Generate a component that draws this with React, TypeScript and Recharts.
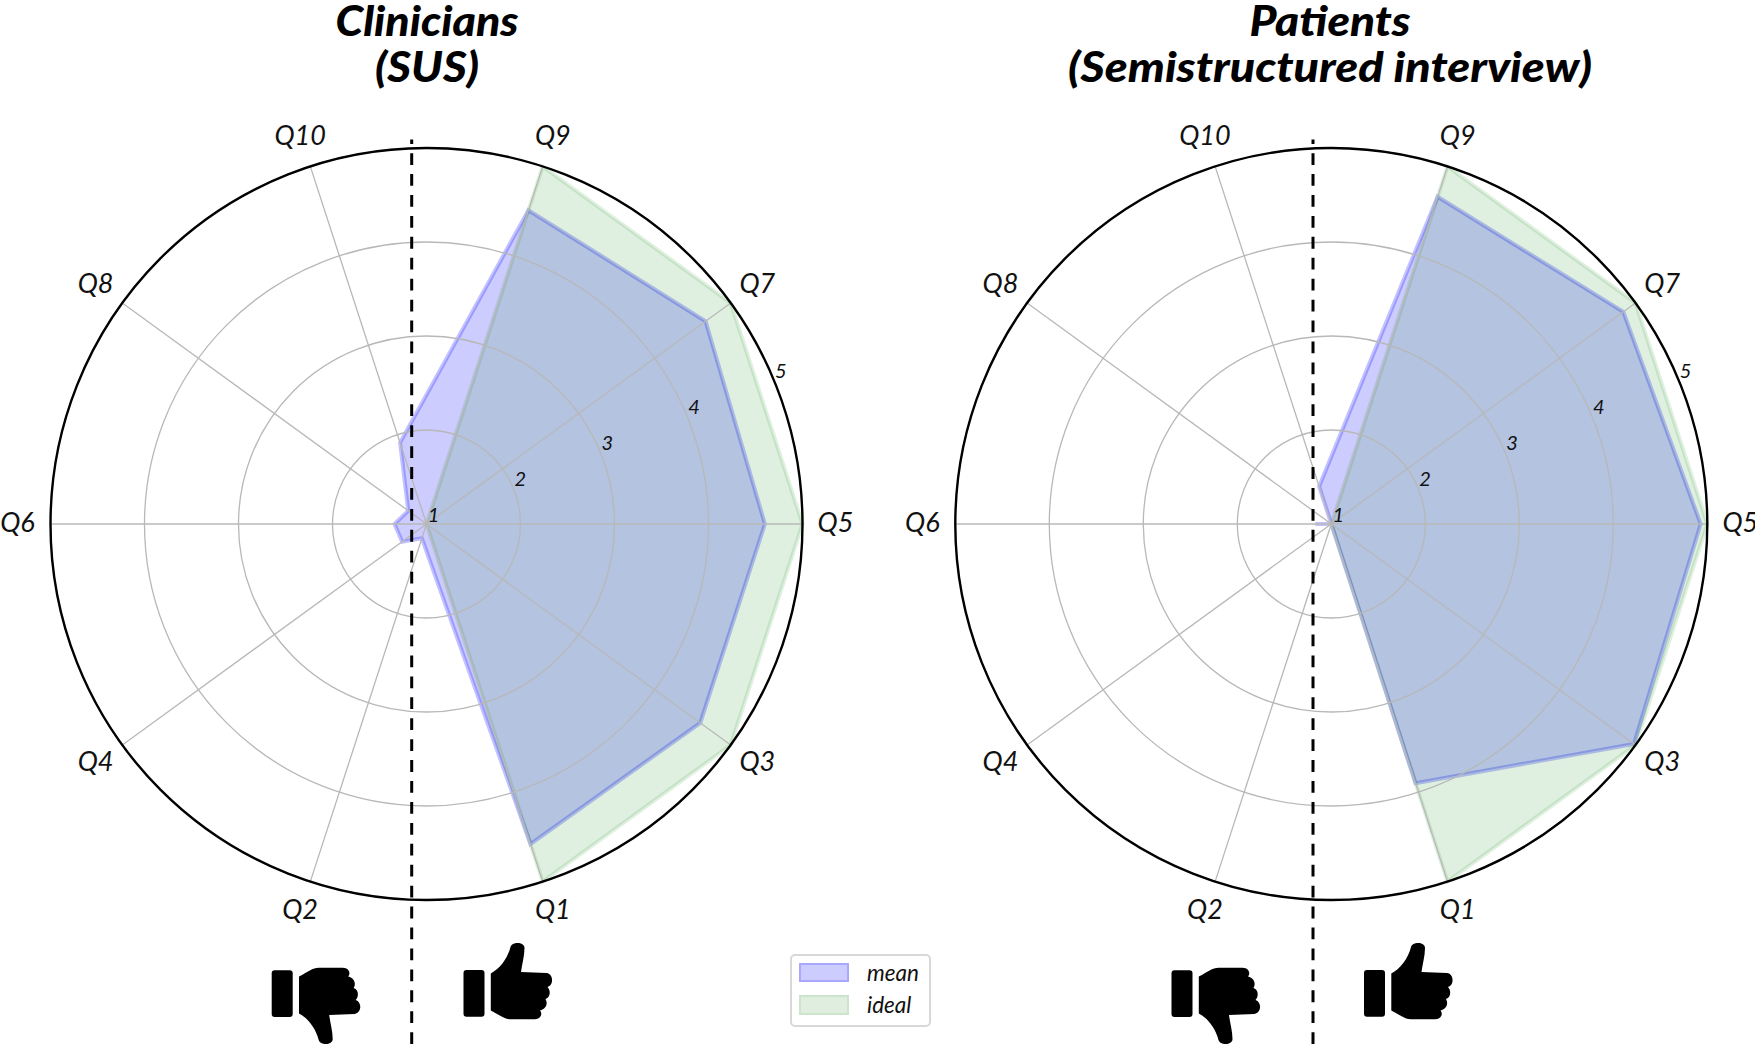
import React from "react";
import {
  RadarChart,
  Radar,
  PolarGrid,
  PolarAngleAxis,
  PolarRadiusAxis,
  Legend,
} from "recharts";

// clockwise from the east spoke
const questions = ["Q5", "Q3", "Q1", "Q2", "Q4", "Q6", "Q8", "Q10", "Q9", "Q7"];
const clinicianMean = [4.6, 4.6, 4.58, 1.16, 1.32, 1.34, 1.24, 1.91, 4.51, 4.67];
const patientMean = [4.93, 4.98, 3.9, 1, 1, 1.17, 1, 1.42, 4.66, 4.84];
const ideal = [5, 5, 5, 1, 1, 1, 1, 1, 5, 5];
const radiusTicks = [1, 2, 3, 4, 5];

const FONT = "Lato, 'Open Sans', sans-serif";
const HEIGHT = 1048;
const CY = 524;
const OUTER = 376;

const buildRows = (mean: number[]) =>
  questions.map((q, i) => ({ q, mean: mean[i], ideal: ideal[i] }));

const AngleTick = ({ x, y, payload, centerX }: any) => {
  const dx = x - centerX;
  const dy = y - CY;
  const len = Math.sqrt(dx * dx + dy * dy) || 1;
  return (
    <text
      x={centerX + (dx / len) * 409}
      y={CY - 2.5 + (dy / len) * 407}
      textAnchor="middle"
      dominantBaseline="central"
      fontFamily={FONT}
      fontStyle="italic"
      fontSize={27}
      fill="#111"
    >
      {payload.value}
    </text>
  );
};

const RadiusTick = ({ x, y, payload }: any) => (
  <text
    x={x + 7}
    y={y - 10}
    textAnchor="middle"
    dominantBaseline="central"
    fontFamily={FONT}
    fontStyle="italic"
    fontSize={20}
    fill="#111"
  >
    {payload.value}
  </text>
);

const NoTick = () => <g />;

const LegendBox = ({ payload }: any) => {
  const rows = ["mean", "ideal"].map((n) =>
    (payload || []).find((p: any) => p.value === n)
  );
  return (
    <div
      style={{
        width: 141,
        height: 73,
        boxSizing: "border-box",
        border: "2px solid #d8d8d8",
        borderRadius: 5,
        background: "#fff",
        padding: "0 0 0 7px",
      }}
    >
      {rows.map((row: any) =>
        row ? (
          <div
            key={row.value}
            style={{ display: "flex", alignItems: "center", height: 32.5 }}
          >
            <span
              style={{
                width: 50,
                height: 19.5,
                boxSizing: "border-box",
                background: row.value === "mean" ? "#ccccff" : "#e0eee0",
                border:
                  row.value === "mean"
                    ? "2.5px solid #a8a8ff"
                    : "2.5px solid #cbe4cb",
              }}
            />
            <span
              style={{
                marginLeft: 18,
                fontFamily: FONT,
                fontStyle: "italic",
                fontSize: 22.5,
                color: "#111",
              }}
            >
              {row.value}
            </span>
          </div>
        ) : null
      )}
    </div>
  );
};

const polarProps = (rows: any, width: number, centerX: number) => ({
  width,
  height: HEIGHT,
  data: rows,
  cx: centerX,
  cy: CY,
  innerRadius: 0,
  outerRadius: OUTER,
  startAngle: 0,
  endAngle: -360,
  margin: { top: 0, right: 0, bottom: 0, left: 0 },
});

// two stacked charts: the grid of the reference lies over the filled areas
const Panel = ({ rows, left, width, centerX, withLegend }: any) => (
  <>
    <div style={{ position: "absolute", left, top: 0 }}>
      <RadarChart {...polarProps(rows, width, centerX)}>
        <PolarAngleAxis dataKey="q" axisLine={false} tickLine={false} tick={<NoTick />} />
        <PolarRadiusAxis
          domain={[1, 5]}
          ticks={radiusTicks as any}
          tickCount={5}
          angle={22.5}
          axisLine={false}
          tickLine={false}
          tick={<NoTick />}
        />
        <Radar
          name="mean"
          dataKey="mean"
          stroke="#0000ff"
          strokeOpacity={0.24}
          strokeWidth={4}
          fill="#0000ff"
          fillOpacity={0.2}
          dot={false}
          isAnimationActive={false}
        />
        <Radar
          name="ideal"
          dataKey="ideal"
          stroke="#008000"
          strokeOpacity={0.12}
          strokeWidth={4}
          fill="#008000"
          fillOpacity={0.12}
          dot={false}
          isAnimationActive={false}
        />
        {withLegend && (
          <Legend
            itemSorter={null as any}
            content={<LegendBox />}
            wrapperStyle={{ left: 790, top: 954, width: 141, height: 73, bottom: "auto" }}
          />
        )}
      </RadarChart>
    </div>
    <div style={{ position: "absolute", left, top: 0, pointerEvents: "none" }}>
      <RadarChart {...polarProps(rows, width, centerX)}>
        <PolarGrid gridType="circle" stroke="#b8b8b8" strokeWidth={1.3} />
        <PolarAngleAxis
          dataKey="q"
          axisLineType="circle"
          axisLine={{ stroke: "#000", strokeWidth: 2.4 }}
          tickLine={false}
          tick={<AngleTick centerX={centerX} />}
        />
        <PolarRadiusAxis
          domain={[1, 5]}
          ticks={radiusTicks as any}
          tickCount={5}
          angle={22.5}
          axisLine={false}
          tickLine={false}
          tick={<RadiusTick />}
        />
        <Radar
          dataKey="ideal"
          stroke="none"
          fill="none"
          dot={false}
          isAnimationActive={false}
        />
      </RadarChart>
    </div>
  </>
);

const HAND =
  "M27.3 30.5 C36 26 44 16 47 4 C48.5 -1.5 61 -1.5 61 5 C61 13 58.5 21 57.5 29 L83 30 C90 31 90.5 42 84 44 C87 47 87.5 54 82 56 C84.5 60 83 66 76.5 67.5 C79 70 78 76.3 71 76.3 L47 76.3 C41 76.3 36 72 27.3 67.5 Z";

// y is the top of the upward thumb, or the tip of the downward one
const Thumb = ({ x, y, down }: any) => (
  <g transform={down ? `translate(${x},${y}) scale(1,-1)` : `translate(${x},${y})`}>
    <rect x={0} y={27} width={21} height={46.7} rx={3} fill="#000" />
    <path d={HAND} fill="#000" />
  </g>
);

const Title = ({ x, y, len, children }: any) => (
  <text x={x} y={y} textLength={len} lengthAdjust="spacingAndGlyphs">
    {children}
  </text>
);

const Dashes = ({ x }: any) => (
  <line
    x1={x}
    y1={139.5}
    x2={x}
    y2={1044}
    stroke="#000"
    strokeWidth={3}
    strokeDasharray="11.8 9.13"
    strokeDashoffset={7.3}
  />
);

const Overlay = () => (
  <svg
    width={1755}
    height={HEIGHT}
    style={{ position: "absolute", left: 0, top: 0, pointerEvents: "none" }}
  >
    <g fontFamily={FONT} fontStyle="italic" fontWeight={900} fontSize={42} textAnchor="middle" fill="#000">
      <Title x={427} y={36} len={183}>Clinicians</Title>
      <Title x={427} y={82} len={104}>(SUS)</Title>
      <Title x={1330} y={36} len={161}>Patients</Title>
      <Title x={1330} y={82} len={524}>(Semistructured interview)</Title>
    </g>
    <Dashes x={411.7} />
    <Dashes x={1313} />
    <Thumb x={271.7} y={1044} down />
    <Thumb x={463.5} y={943} />
    <Thumb x={1171.5} y={1044} down />
    <Thumb x={1364} y={943} />
  </svg>
);

export default function App() {
  return (
    <div style={{ position: "absolute", left: 0, top: 0, width: 1755, height: HEIGHT, background: "#fff" }}>
      <Panel rows={buildRows(clinicianMean)} left={0} width={940} centerX={426.5} withLegend />
      <Panel rows={buildRows(patientMean)} left={880} width={875} centerX={451.3} />
      <Overlay />
    </div>
  );
}
